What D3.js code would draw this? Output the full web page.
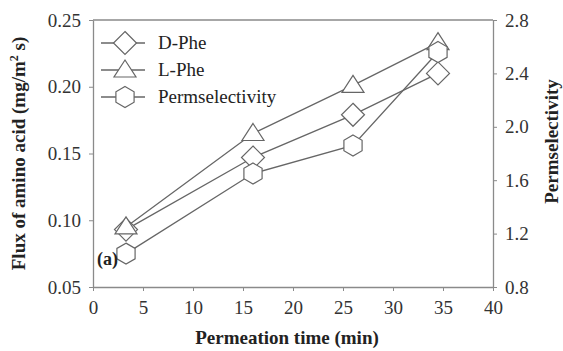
<!DOCTYPE html>
<html>
<head>
<meta charset="utf-8">
<script src="https://cdn.jsdelivr.net/npm/d3@7"></script>
<style>
  body { margin: 0; background: #fff; }
  svg text { font-family: "Liberation Serif", "DejaVu Serif", serif; }
</style>
</head>
<body>
<div id="chart-area"></div>
<script>
// data
var times = [3.3, 16, 26, 34.5];
var dPhe = [0.093, 0.147, 0.179, 0.210];
var lPhe = [0.095, 0.165, 0.201, 0.233];
var perm = [1.05, 1.65, 1.86, 2.56];
var xTicks = [0, 5, 10, 15, 20, 25, 30, 35, 40];
var yTicks = [0.05, 0.10, 0.15, 0.20, 0.25];
var y2Ticks = [0.8, 1.2, 1.6, 2.0, 2.4, 2.8];

var margin = {top: 20, right: 70, bottom: 64, left: 93};
var w = 563 - margin.left - margin.right;
var h = 351 - margin.top - margin.bottom;
var grey = "#8a8a8a";
var lineCol = "#666";
var serif = "'Liberation Serif', 'Times New Roman', serif";

var svg = d3.select("#chart-area").append("svg")
    .attr("width", 563)
    .attr("height", 351)
    .attr("font-family", serif);

var g = svg.append("g")
    .attr("transform", "translate(" + margin.left + "," + margin.top + ")");

var x = d3.scaleLinear().domain([0, 40]).range([0, w]);
var y = d3.scaleLinear().domain([0.05, 0.25]).range([h, 0]);
var y2 = d3.scaleLinear().domain([0.8, 2.8]).range([h, 0]);

// top border
g.append("line")
    .attr("x1", 0).attr("x2", w).attr("y1", 0).attr("y2", 0)
    .attr("stroke", grey).attr("stroke-width", 1.3);

var xAxis = g.append("g")
    .attr("transform", "translate(0," + h + ")")
    .call(d3.axisBottom(x).tickValues(xTicks).tickSize(4).tickSizeOuter(0).tickFormat(d3.format("d")));

var yAxis = g.append("g")
    .call(d3.axisLeft(y).tickValues(yTicks).tickSize(4).tickSizeOuter(0).tickFormat(d3.format(".2f")));

var y2Axis = g.append("g")
    .attr("transform", "translate(" + w + ",0)")
    .call(d3.axisRight(y2).tickValues(y2Ticks).tickSize(4).tickSizeOuter(0).tickFormat(d3.format(".1f")));

[xAxis, yAxis, y2Axis].forEach(function(a) {
    a.attr("font-family", serif);
    a.select(".domain").attr("stroke", grey).attr("stroke-width", 1.3);
    a.selectAll(".tick line").attr("stroke", grey);
    a.selectAll(".tick text")
        .attr("fill", "#333")
        .attr("font-size", "19px")
        .attr("font-family", serif);
});
xAxis.selectAll(".tick text").attr("y", 9).attr("dy", "0.95em");
yAxis.selectAll(".tick text").attr("x", -12);
y2Axis.selectAll(".tick text").attr("x", 12);

// axis titles
g.append("text")
    .attr("x", w / 2 - 6).attr("y", h + 57)
    .attr("text-anchor", "middle")
    .attr("font-size", "19px").attr("font-weight", "bold")
    .attr("font-family", serif)
    .attr("fill", "#222")
    .text("Permeation time (min)");

var yl = g.append("text")
    .attr("transform", "translate(-68," + (h / 2) + ") rotate(-90)")
    .attr("text-anchor", "middle")
    .attr("font-size", "19px").attr("font-weight", "bold")
    .attr("font-family", serif)
    .attr("fill", "#222");
yl.append("tspan").text("Flux of amino acid (mg/m");
yl.append("tspan").attr("font-size", "12px").attr("dy", "-7").text("2");
yl.append("tspan").attr("dy", "7").text(" s)");

g.append("text")
    .attr("transform", "translate(" + (w + 65) + "," + (h / 2 - 12) + ") rotate(-90)")
    .attr("text-anchor", "middle")
    .attr("font-size", "19px").attr("font-weight", "bold")
    .attr("font-family", serif)
    .attr("fill", "#222")
    .text("Permselectivity");

// marker shapes
function diamond(s) {
    return "M0," + (-s) + "L" + s + ",0L0," + s + "L" + (-s) + ",0Z";
}
function triangle(s) {
    return "M0," + (-s) + "L" + (s * 1.1) + "," + (s * 0.7) + "L" + (-s * 1.1) + "," + (s * 0.7) + "Z";
}
function hexagon(s) {
    var p = [];
    for (var i = 0; i < 6; i++) {
        var a = Math.PI / 3 * i - Math.PI / 2;
        p.push((s * Math.cos(a)).toFixed(2) + "," + (s * Math.sin(a)).toFixed(2));
    }
    return "M" + p.join("L") + "Z";
}

var series = [
    {name: "D-Phe", vals: dPhe, sc: y, shape: diamond(11.5)},
    {name: "L-Phe", vals: lPhe, sc: y, shape: triangle(10)},
    {name: "Permselectivity", vals: perm, sc: y2, shape: hexagon(10.5)}
];

series.forEach(function(s) {
    var pts = times.map(function(t, i) { return [x(t), s.sc(s.vals[i])]; });
    g.append("path")
        .attr("d", d3.line()(pts))
        .attr("fill", "none")
        .attr("stroke", lineCol)
        .attr("stroke-width", 1.3);
});
series.forEach(function(s) {
    g.selectAll(null)
        .data(times.map(function(t, i) { return [x(t), s.sc(s.vals[i])]; }))
        .enter().append("path")
        .attr("d", s.shape)
        .attr("transform", function(d) { return "translate(" + d[0] + "," + d[1] + ")"; })
        .attr("fill", "#fff")
        .attr("stroke", lineCol)
        .attr("stroke-width", 1.2);
});

// legend
var leg = g.append("g").attr("transform", "translate(8,23)");
series.forEach(function(s, i) {
    var row = leg.append("g").attr("transform", "translate(0," + (i * 27) + ")");
    row.append("line").attr("x1", 0).attr("x2", 44).attr("y1", 0).attr("y2", 0)
        .attr("stroke", lineCol).attr("stroke-width", 1.3);
    row.append("path").attr("d", s.shape).attr("transform", "translate(24,0)")
        .attr("fill", "#fff").attr("stroke", lineCol).attr("stroke-width", 1.2);
    row.append("text").attr("x", 57).attr("y", 6)
        .attr("font-size", "19px").attr("font-family", serif).attr("fill", "#222")
        .text(s.name);
});

g.append("text")
    .attr("x", 4).attr("y", h - 22)
    .attr("font-size", "18px").attr("font-weight", "bold")
    .attr("font-family", serif)
    .attr("fill", "#222")
    .text("(a)");
</script>
</body>
</html>
